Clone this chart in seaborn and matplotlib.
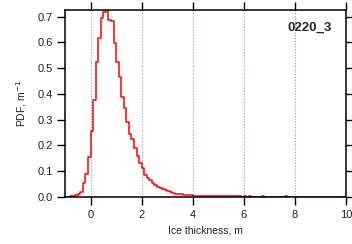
import numpy as np
import pandas as pd
import matplotlib
matplotlib.use("Agg")
import matplotlib.pyplot as plt
import seaborn as sns

# Bin left edges (m), width 0.1, and PDF values (1/m)
bin_left = [round(-1.0 + 0.1 * i, 1) for i in range(110)]
pdf = [
    0.000, 0.001, 0.004, 0.005, 0.006, 0.013, 0.020, 0.055, 0.088, 0.156,   # -1.0 .. -0.1
    0.256, 0.376, 0.525, 0.618, 0.696, 0.717, 0.728, 0.689, 0.685, 0.599,   # 0.0 .. 0.9
    0.525, 0.467, 0.389, 0.347, 0.292, 0.243, 0.224, 0.191, 0.160, 0.131,   # 1.0 .. 1.9
    0.114, 0.085, 0.075, 0.066, 0.053, 0.047, 0.040, 0.034, 0.030, 0.028,   # 2.0 .. 2.9
    0.022, 0.018, 0.014, 0.012, 0.012, 0.010, 0.009, 0.008, 0.007, 0.006,   # 3.0 .. 3.9
    0.005, 0.005, 0.004, 0.004, 0.004, 0.003, 0.004, 0.003, 0.003, 0.003,   # 4.0 .. 4.9
    0.003, 0.002, 0.003, 0.002, 0.002, 0.002, 0.002, 0.002, 0.002, 0.001,   # 5.0 .. 5.9
    0.002, 0.001, 0.002, 0.001, 0.001, 0.001, 0.001, 0.002, 0.001, 0.001,   # 6.0 .. 6.9
    0.001, 0.001, 0.001, 0.001, 0.001, 0.001, 0.002, 0.001, 0.001, 0.001,   # 7.0 .. 7.9
    0.001, 0.001, 0.001, 0.001, 0.001, 0.001, 0.001, 0.001, 0.001, 0.001,   # 8.0 .. 8.9
    0.001, 0.001, 0.001, 0.001, 0.001, 0.001, 0.001, 0.001, 0.001, 0.001,   # 9.0 .. 9.9
]
x_ticks = [0, 2, 4, 6, 8, 10]
y_ticks = [0.0, 0.1, 0.2, 0.3, 0.4, 0.5, 0.6, 0.7]
grid_x = [0, 2, 4, 6, 8]
label_text = "0220_3"

width = 0.1
edges = [round(b, 1) for b in bin_left] + [round(bin_left[-1] + width, 1)]
df = pd.DataFrame({"center": [b + width / 2 for b in bin_left], "pdf": pdf})

sns.set_style("ticks")
plt.rcParams["font.family"] = ["Liberation Sans", "DejaVu Sans"]

fig = plt.figure(figsize=(3.52, 2.44), dpi=100)
ax = fig.add_axes([65 / 352, 47 / 244, 281 / 352, 187.5 / 244])

for gx in grid_x:
    ax.axvline(gx, color="#9090f0", linestyle=(0, (1, 1.5)), linewidth=0.8, zorder=0)

sns.histplot(data=df, x="center", weights="pdf", bins=edges, element="step",
             fill=False, color="red", linewidth=1.1, ax=ax, stat="count")

ax.set_xlim(-1, 10)
ax.set_ylim(0, 0.728)
ax.set_xticks(x_ticks)
ax.set_yticks(y_ticks)
ax.set_yticklabels([f"{v:.1f}" for v in y_ticks])
ax.tick_params(axis="both", which="both", direction="out", length=5.5, width=1,
               labelsize=8, colors="black", labelcolor="#222222", top=True, right=True,
               labeltop=False, labelright=False)
ax.tick_params(axis="x", pad=4)
for s in ax.spines.values():
    s.set_visible(True)
    s.set_linewidth(1.1)
    s.set_color("black")

ax.set_xlabel("Ice thickness, m", fontsize=7.5, labelpad=4, color="#222222")
ax.set_ylabel("PDF, m$^{-1}$", fontsize=7.5, labelpad=6, color="#222222")
ax.text(0.95, 0.90, label_text, transform=ax.transAxes, ha="right", va="center",
        fontsize=9.5, fontweight="bold")

fig.savefig("out.png", dpi=100)
